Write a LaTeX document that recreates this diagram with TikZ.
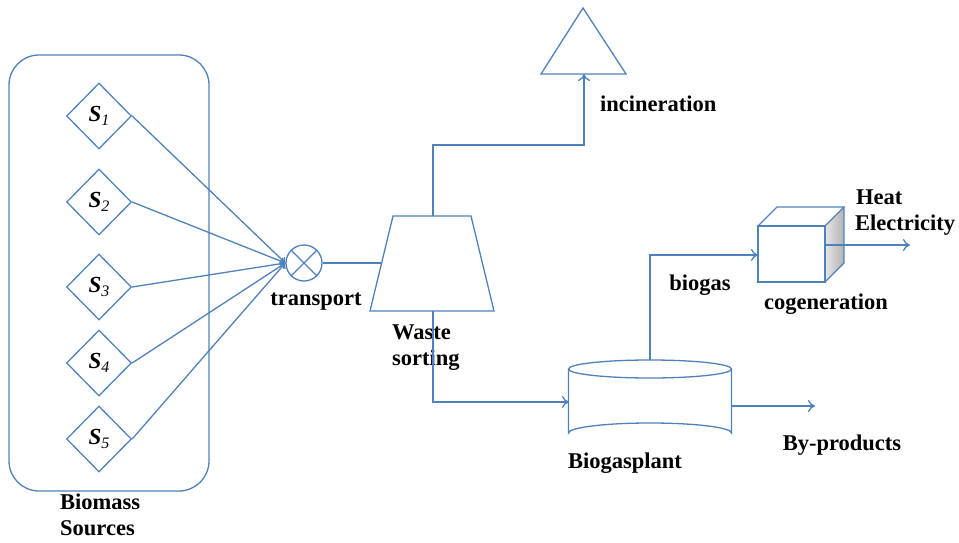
\documentclass[tikz,border=0pt]{standalone}
\usepackage{fontspec}
\setmainfont{Liberation Serif}
\usetikzlibrary{arrows.meta,shapes.geometric}
\definecolor{lineblue}{RGB}{79,129,189}
\tikzset{
  ln/.style={draw=lineblue,line width=1.3pt},
  arr/.style={ln,-{To[length=7pt,width=12pt]}},
  lbl/.style={font=\fontsize{22.5}{24}\selectfont\bfseries,inner sep=0pt,text=black},
  src/.style={diamond,draw=lineblue,line width=1.3pt,minimum width=65pt,minimum height=66pt,inner sep=0pt,font=\fontsize{23}{24}\selectfont},
}
\newcommand{\srcl}[1]{\textbf{\textit{S}}\raisebox{-0.35ex}{\fontsize{16}{18}\selectfont\textit{#1}}}
\begin{document}
\begin{tikzpicture}[x=1pt,y=-1pt]
\useasboundingbox (0,0) rectangle (959,543);
% biomass box
\draw[ln,rounded corners=30pt] (9,55) rectangle (209,491);
\node[src] (s1) at (99,116) {\srcl{1}};
\node[src] (s2) at (99,202) {\srcl{2}};
\node[src] (s3) at (99,287) {\srcl{3}};
\node[src] (s4) at (99,363) {\srcl{4}};
\node[src] (s5) at (99,439) {\srcl{5}};
\node[lbl,align=left,anchor=north west] (bs) at (60,494) {Biomass\\[2pt]Sources};
% transport
\node[circle,draw=lineblue,line width=1.3pt,minimum size=36pt,inner sep=0pt] (tr) at (304,263) {};
\draw[ln] (tr.north west) -- (tr.south east) (tr.north east) -- (tr.south west);
\foreach \s in {s1,s2,s3,s4,s5} \draw[arr,-{To[length=5pt,width=8pt]}] (\s.east) -- (tr.west);
\node[lbl] (trl) at (316,302) {transport};
% waste sorting trapezoid
\coordinate (wtl) at (393,216);
\coordinate (wtr) at (471,216);
\coordinate (wbr) at (494,311);
\coordinate (wbl) at (370,311);
\draw[ln] (wtl) -- (wtr) -- (wbr) -- (wbl) -- cycle;
\coordinate (win) at (382,263);
\coordinate (wtop) at (433,216);
\coordinate (wbot) at (433,311);
\draw[ln] (tr.east) -- (win);
\node[lbl,align=left,anchor=north west] (wsl) at (392,325) {Waste\\[2pt]sorting};
% incineration triangle
\coordinate (ta) at (583,8);
\coordinate (tbl) at (541,74);
\coordinate (tbr) at (626,74);
\coordinate (tb) at (584,74);
\draw[ln] (ta) -- (tbr) -- (tbl) -- cycle;
\node[lbl,anchor=west] (inc) at (600,104) {incineration};
\draw[arr] (wtop) |- (584,145) -- (tb);
% biogas plant cylinder
\coordinate (cl) at (569,402);
\coordinate (cr) at (732,402);
\coordinate (ctop) at (650,360);
\draw[ln] (650,369) ellipse[x radius=81.5, y radius=9];
\draw[ln] (568.5,369) -- (568.5,433) arc[start angle=180,end angle=360,x radius=81.5,y radius=10] -- (731.5,369);
\draw[arr] (wbot) |- (cl);
\node[lbl] (bpl) at (625,463) {Biogasplant};
% cogeneration cube
\coordinate (fl) at (758,255);
\shade[left color=gray!20,right color=gray!60] (825,226) -- (844,207) -- (844,263) -- (825,282) -- cycle;
\draw[ln] (758,226) rectangle (825,282);
\draw[ln] (758,226) -- (777,207) -- (844,207) -- (825,226);
\draw[ln] (844,207) -- (844,263) -- (825,282);
\coordinate (cout) at (825,245);
\coordinate (hend) at (910,245);
\draw[arr] (ctop) |- (fl);
\draw[arr] (cout) -- (hend);
\node[lbl] (bgl) at (700,285) {biogas};
\node[lbl] (cgl) at (826,304) {cogeneration};
\node[lbl,anchor=west] (heat) at (856,197) {Heat};
\node[lbl,anchor=west] (elec) at (855,225) {Electricity};
% by-products
\coordinate (bpend) at (815,406);
\draw[arr] (732,406) -- (bpend);
\node[lbl] (byp) at (842,445) {By-products};
\end{tikzpicture}
\end{document}
